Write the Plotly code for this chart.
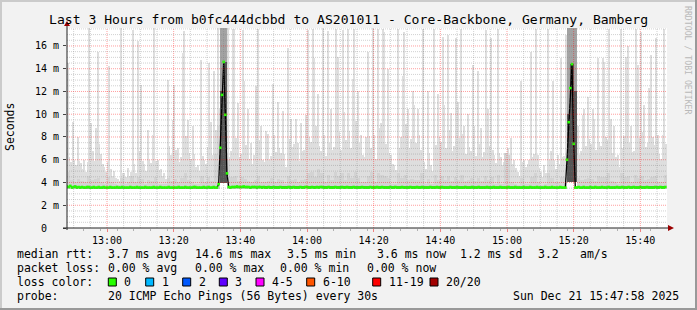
import plotly.graph_objects as go
import pandas as pd

START = "2025-12-21 12:48:00"
END = "2025-12-21 15:48:00"

# ---- data ----
# highest ping per 30 s step (upper edge of the light smoke), 360 steps
smoke_max = [
    14.5, 6.2, 5.8, 9.3, 6.0, 5.5, 8.0, 5.9, 5.7, 5.2, 6.0, 4.9, 5.8, 17.6, 9.2, 6.8, 5.9, 8.8, 15.5, 7.4,
    6.5, 5.6, 5.4, 4.9, 5.8, 14.2, 5.2, 4.6, 5.0, 4.4, 4.3, 4.1, 17.6, 4.8, 4.8, 4.5, 5.3, 4.6, 4.9, 17.4,
    5.6, 4.8, 16.4, 6.8, 12.6, 5.9, 5.6, 5.0, 8.6, 6.0, 5.7, 8.2, 17.6, 5.9, 6.0, 5.1, 5.2, 4.6, 4.8, 4.3,
    13.0, 7.2, 6.4, 9.5, 12.6, 6.9, 7.0, 5.8, 6.2, 15.4, 17.3, 8.1, 9.5, 6.6, 6.1, 9.0, 6.5, 5.4, 5.5, 5.0,
    14.8, 6.3, 6.0, 5.6, 7.1, 14.5, 9.3, 6.4, 13.8, 8.6, 17.6, 10.5, 17.6, 17.6, 17.6, 17.6, 17.6, 6.2, 6.8, 17.5,
    17.5, 7.9, 11.0, 6.2, 6.5, 17.4, 12.9, 7.3, 10.5, 6.1, 7.5, 5.6, 6.4, 12.5, 17.5, 7.7, 9.0, 6.0, 5.8, 8.5,
    8.3, 6.0, 6.3, 12.7, 8.2, 6.7, 11.1, 7.0, 6.6, 10.3, 6.5, 5.4, 15.8, 7.8, 9.6, 7.1, 7.4, 9.6, 7.5, 5.9,
    9.2, 6.8, 6.9, 9.9, 17.4, 8.0, 7.6, 17.5, 14.9, 9.0, 11.8, 7.2, 6.8, 17.6, 8.2, 6.3, 17.3, 7.5, 10.5, 6.9,
    7.1, 17.5, 15.0, 8.4, 6.9, 17.4, 10.2, 7.7, 17.5, 8.5, 7.0, 13.1, 17.5, 9.4, 12.0, 7.5, 8.2, 6.4, 6.2, 8.0,
    15.5, 8.1, 7.0, 17.6, 8.2, 6.1, 17.5, 8.8, 9.2, 17.5, 17.2, 7.4, 14.0, 6.6, 6.4, 5.6, 5.5, 5.1, 17.5, 7.0,
    8.0, 13.4, 17.2, 9.1, 10.5, 7.0, 7.8, 12.0, 10.8, 7.5, 10.5, 8.2, 6.9, 17.5, 5.8, 5.2, 12.0, 6.6, 5.5, 5.0,
    17.5, 7.3, 11.8, 8.0, 7.6, 16.8, 10.8, 7.0, 17.0, 8.6, 10.1, 6.8, 7.2, 16.7, 11.1, 7.9, 17.5, 8.3, 9.0, 6.5,
    10.0, 7.1, 6.8, 14.3, 9.0, 6.3, 13.8, 7.4, 8.8, 6.2, 6.7, 17.4, 10.5, 7.2, 16.7, 6.9, 6.4, 5.7, 17.5, 6.6,
    6.2, 5.5, 5.8, 6.6, 7.0, 6.4, 7.9, 5.6, 6.0, 5.3, 4.9, 4.6, 12.9, 5.8, 6.0, 5.4, 5.6, 6.0, 15.5, 6.2,
    6.5, 17.5, 6.4, 5.3, 4.9, 4.5, 5.5, 4.8, 17.5, 6.0, 6.8, 12.9, 6.0, 5.2, 6.4, 5.6, 14.9, 6.2, 6.3, 17.0,
    17.6, 17.6, 17.6, 17.6, 17.6, 17.6, 9.0, 6.4, 6.8, 9.9, 10.5, 7.2, 11.5, 7.8, 7.4, 10.5, 9.6, 6.9, 14.9, 7.6,
    7.2, 14.9, 14.6, 8.0, 7.7, 17.5, 9.6, 6.6, 9.0, 6.2, 6.4, 5.4, 17.5, 7.0, 8.1, 15.0, 16.0, 7.5, 9.0, 6.7,
    6.8, 17.5, 14.3, 7.9, 17.2, 8.4, 10.8, 7.1, 7.5, 12.3, 15.2, 8.0, 7.3, 16.7, 8.2, 6.5, 6.1, 8.2, 17.5, 7.4,
]
# medium-grey inner smoke, one value per minute
smoke_mid = [
    4.9, 4.2, 4.0, 4.3, 4.1, 4.0, 4.6, 4.2, 4.3, 4.4, 4.0, 3.9, 4.5, 4.0, 3.9, 3.8, 4.4, 3.9, 4.0, 4.6,
    4.0, 4.5, 4.3, 3.9, 4.2, 4.1, 4.5, 3.9, 3.9, 3.9, 4.4, 4.1, 4.3, 4.0, 4.4, 4.8, 4.2, 4.0, 3.9, 3.9,
    4.6, 4.0, 4.5, 4.1, 6.5, 9.0, 14.0, 14.0, 6.0, 4.5, 4.6, 4.1, 4.5, 4.3, 4.1, 4.0, 4.2, 4.6, 4.0, 4.0,
    4.1, 4.4, 4.0, 4.3, 4.2, 3.9, 4.6, 4.2, 4.3, 4.0, 4.2, 4.3, 4.8, 4.9, 4.5, 5.2, 4.8, 4.0, 4.7, 4.2,
    4.9, 4.6, 4.8, 4.2, 4.8, 4.4, 4.9, 4.4, 4.0, 4.0, 4.6, 4.9, 4.0, 4.8, 4.7, 4.6, 4.4, 3.9, 3.9, 4.8,
    4.4, 4.7, 4.2, 4.3, 4.2, 4.2, 4.8, 3.9, 4.3, 3.9, 4.7, 4.2, 4.6, 4.2, 4.6, 4.1, 4.5, 4.2, 4.7, 4.1,
    4.2, 4.4, 4.1, 4.4, 4.1, 4.6, 4.2, 4.5, 3.9, 4.7, 3.9, 6.6, 6.4, 4.0, 3.9, 3.8, 4.4, 3.9, 3.9, 4.5,
    4.8, 4.0, 3.8, 3.9, 4.8, 4.4, 4.0, 4.0, 4.5, 4.6, 14.0, 15.0, 12.0, 4.4, 4.2, 4.3, 4.4, 4.3, 4.1, 4.6,
    4.5, 4.5, 4.8, 4.1, 4.0, 3.9, 4.8, 4.5, 4.6, 4.0, 4.7, 4.4, 4.6, 4.2, 4.3, 4.5, 4.6, 4.0, 4.0, 4.7,
]
# lowest ping per minute (bottom of the smoke)
smoke_min = [
    3.4, 3.4, 3.4, 3.4, 3.4, 3.4, 3.4, 3.4, 3.4, 3.4, 3.4, 3.4, 3.4, 3.4, 3.4, 3.4, 3.4, 3.4, 3.4, 3.4,
    3.4, 3.4, 3.4, 3.4, 3.4, 3.4, 3.4, 3.4, 3.4, 3.4, 3.4, 3.4, 3.4, 3.4, 3.4, 3.4, 3.4, 3.4, 3.4, 3.4,
    3.4, 3.4, 3.4, 3.4, 3.4, 3.4, 3.95, 3.95, 3.4, 3.4, 3.4, 3.4, 3.4, 3.4, 3.4, 3.4, 3.4, 3.4, 3.4, 3.4,
    3.4, 3.4, 3.4, 3.4, 3.4, 3.4, 3.4, 3.4, 3.4, 3.4, 3.4, 3.4, 3.4, 3.4, 3.4, 3.4, 3.4, 3.4, 3.4, 3.4,
    3.4, 3.4, 3.4, 3.4, 3.4, 3.4, 3.4, 3.4, 3.4, 3.4, 3.4, 3.4, 3.4, 3.4, 3.4, 3.4, 3.4, 3.4, 3.4, 3.4,
    3.4, 3.4, 3.4, 3.4, 3.4, 3.4, 3.4, 3.4, 3.4, 3.4, 3.4, 3.4, 3.4, 3.4, 3.4, 3.4, 3.4, 3.4, 3.4, 3.4,
    3.4, 3.4, 3.4, 3.4, 3.4, 3.4, 3.4, 3.4, 3.4, 3.4, 3.4, 3.4, 3.4, 3.4, 3.4, 3.4, 3.4, 3.4, 3.4, 3.4,
    3.4, 3.4, 3.4, 3.4, 3.4, 3.4, 3.4, 3.4, 3.4, 3.4, 4.0, 4.0, 4.0, 3.4, 3.4, 3.4, 3.4, 3.4, 3.4, 3.4,
    3.4, 3.4, 3.4, 3.4, 3.4, 3.4, 3.4, 3.4, 3.4, 3.4, 3.4, 3.4, 3.4, 3.4, 3.4, 3.4, 3.4, 3.4, 3.4, 3.4,
]
# dark smoke during the two latency spikes
dark_times = ["2025-12-21 13:34:00", "2025-12-21 13:35:00",
              "2025-12-21 15:18:00", "2025-12-21 15:19:00", "2025-12-21 15:20:00"]
dark_top = [17.6, 17.6, 17.6, 17.6, 17.6]
dark_core = [12.0, 14.6, 10.0, 14.4, 12.0]
dark_floor = [3.95, 3.95, 4.0, 4.0, 4.0]

# median rtt every 30 s (ms)
median_rtt = [
    3.65, 3.6, 3.7, 3.55, 3.6, 3.65, 3.55, 3.6, 3.55, 3.6, 3.55, 3.55, 3.6, 3.6, 3.55, 3.55, 3.6, 3.55, 3.55, 3.6,
    3.55, 3.55, 3.6, 3.55, 3.55, 3.55, 3.6, 3.55, 3.55, 3.55, 3.6, 3.55, 3.55, 3.6, 3.55, 3.55, 3.55, 3.55, 3.6, 3.55,
    3.55, 3.55, 3.6, 3.55, 3.55, 3.55, 3.55, 3.6, 3.55, 3.55, 3.55, 3.55, 3.6, 3.55, 3.55, 3.55, 3.6, 3.55, 3.55, 3.55,
    3.55, 3.6, 3.55, 3.55, 3.55, 3.55, 3.55, 3.6, 3.55, 3.55, 3.55, 3.6, 3.55, 3.55, 3.55, 3.55, 3.6, 3.6, 3.55, 3.55,
    3.55, 3.55, 3.6, 3.55, 3.55, 3.6, 3.55, 3.55, 3.6, 3.55, 3.55, 3.85, 7.05, 11.7, 14.6, 9.95, 4.8, 3.6, 3.55, 3.6,
    3.6, 3.6, 3.65, 3.6, 3.6, 3.6, 3.65, 3.6, 3.6, 3.6, 3.55, 3.6, 3.6, 3.6, 3.55, 3.6, 3.6, 3.55, 3.6, 3.55,
    3.55, 3.6, 3.55, 3.55, 3.6, 3.55, 3.55, 3.55, 3.6, 3.55, 3.55, 3.55, 3.55, 3.6, 3.55, 3.55, 3.6, 3.55, 3.55, 3.55,
    3.6, 3.55, 3.55, 3.6, 3.6, 3.55, 3.55, 3.6, 3.55, 3.55, 3.6, 3.55, 3.6, 3.6, 3.55, 3.55, 3.55, 3.6, 3.55, 3.55,
    3.55, 3.6, 3.55, 3.55, 3.55, 3.6, 3.55, 3.55, 3.6, 3.55, 3.55, 3.55, 3.6, 3.55, 3.55, 3.55, 3.55, 3.6, 3.55, 3.55,
    3.55, 3.55, 3.6, 3.55, 3.55, 3.55, 3.6, 3.55, 3.55, 3.6, 3.55, 3.55, 3.55, 3.55, 3.6, 3.55, 3.55, 3.6, 3.55, 3.55,
    3.55, 3.6, 3.55, 3.55, 3.55, 3.55, 3.6, 3.55, 3.55, 3.55, 3.6, 3.55, 3.55, 3.6, 3.55, 3.55, 3.55, 3.55, 3.6, 3.55,
    3.55, 3.55, 3.6, 3.55, 3.55, 3.6, 3.55, 3.55, 3.55, 3.55, 3.6, 3.55, 3.55, 3.55, 3.6, 3.55, 3.55, 3.55, 3.55, 3.6,
    3.55, 3.55, 3.55, 3.6, 3.55, 3.55, 3.55, 3.6, 3.55, 3.55, 3.55, 3.55, 3.6, 3.55, 3.55, 3.55, 3.6, 3.55, 3.55, 3.55,
    3.6, 3.55, 3.55, 3.55, 3.55, 3.6, 3.55, 3.55, 3.55, 3.6, 3.55, 3.55, 3.55, 3.55, 3.6, 3.55, 3.55, 3.55, 3.6, 3.55,
    3.55, 3.55, 3.6, 3.55, 3.55, 3.55, 3.55, 3.6, 3.55, 3.55, 3.55, 3.6, 3.55, 3.55, 3.55, 3.55, 3.6, 3.55, 3.55, 3.55,
    6.0, 9.3, 12.3, 14.4, 7.4, 3.55, 3.55, 3.6, 3.55, 3.55, 3.6, 3.55, 3.55, 3.55, 3.6, 3.55, 3.55, 3.6, 3.55, 3.55,
    3.55, 3.6, 3.55, 3.55, 3.55, 3.6, 3.55, 3.55, 3.55, 3.55, 3.6, 3.55, 3.55, 3.6, 3.55, 3.55, 3.55, 3.6, 3.55, 3.55,
    3.6, 3.55, 3.55, 3.55, 3.6, 3.55, 3.55, 3.55, 3.6, 3.55, 3.55, 3.55, 3.55, 3.6, 3.55, 3.55, 3.6, 3.55, 3.55, 3.6,
]

y_ticks = [0, 2, 4, 6, 8, 10, 12, 14, 16]
y_tick_labels = ["0\u00a0\u00a0", "2 m", "4 m", "6 m", "8 m", "10 m", "12 m", "14 m", "16 m"]
x_tick_labels = ["13:00", "13:20", "13:40", "14:00", "14:20", "14:40", "15:00", "15:20", "15:40"]

title_text = "Last 3 Hours from b0fc444dcbbd to AS201011 - Core-Backbone, Germany, Bamberg"
row_rtt = [("median rtt:", 16), ("3.7 ms avg", 107), ("14.6 ms max", 193.7), ("3.5 ms min", 286),
           ("3.6 ms now", 375.5), ("1.2 ms sd", 459), ("3.2", 536.7), ("am/s", 579.3)]
row_loss = [("packet loss:", 16), ("0.00 % avg", 107), ("0.00 % max", 193.7),
            ("0.00 % min", 279.3), ("0.00 % now", 366)]
loss_labels = ["0", "1", "2", "3", "4-5", "6-10", "11-19", "20/20"]
loss_colors = ["#26ff00", "#00b8ff", "#0059ff", "#5e00ff", "#ff00ff", "#ff5500", "#ff0000", "#a10000"]
loss_box_x = [108.3, 145.7, 182.7, 219.3, 256, 306.7, 372.7, 430]
probe_text = "20 ICMP Echo Pings (56 Bytes) every 30s"
date_text = "Sun Dec 21 15:47:58 2025"

# ---- geometry ----
W, H = 697, 310
L, T, PW, PH = 67, 28, 600, 200
R, B = W - L - PW, H - T - PH
FONT = "DejaVu Sans Mono"


def px(x):
    return (x - L) / PW


def py(y):
    return (T + PH - y) / PH


t0 = pd.Timestamp(START)
minute_times = [(t0 + pd.Timedelta(minutes=i)).strftime("%Y-%m-%d %H:%M:%S") for i in range(len(smoke_mid))]
step_times = [(t0 + pd.Timedelta(seconds=30 * i)).strftime("%Y-%m-%d %H:%M:%S") for i in range(len(median_rtt))]
step_floor = [smoke_min[i // 2] for i in range(len(smoke_max))]

fig = go.Figure()
fig.add_bar(x=step_times, y=[h - l for h, l in zip(smoke_max, step_floor)], base=step_floor,
            width=30000, offset=0, marker=dict(color="#dedede", line=dict(width=0)), hoverinfo="skip")
fig.add_bar(x=minute_times, y=[m - l for m, l in zip(smoke_mid, smoke_min)], base=smoke_min,
            width=60000, offset=0, marker=dict(color="#d3d3d3", line=dict(width=0)), hoverinfo="skip")
fig.add_bar(x=dark_times, y=[h - l for h, l in zip(dark_top, dark_floor)], base=dark_floor,
            width=60000, offset=0, marker=dict(color="#a3a3a3", line=dict(width=0)), hoverinfo="skip")
fig.add_bar(x=dark_times, y=[h - l for h, l in zip(dark_core, dark_floor)], base=dark_floor,
            width=60000, offset=0, marker=dict(color="#555555", line=dict(width=0)), hoverinfo="skip")
fig.add_scatter(x=step_times, y=median_rtt, mode="lines", line=dict(color="#000000", width=1.3),
                hoverinfo="skip")
fig.add_scatter(x=step_times, y=median_rtt, mode="markers",
                marker=dict(symbol="square", size=2.6, color="#26ff00", line=dict(width=0)), hoverinfo="skip")

shapes = []
# grid above the smoke (as rrdtool does)
end_ts = pd.Timestamp(END)
t = t0
while t <= end_ts:
    if t > t0 and t.minute % 5 == 0:
        major = t.minute % 20 == 0
        shapes.append(dict(type="line", xref="x", yref="paper", x0=t.strftime("%Y-%m-%d %H:%M:%S"),
                           x1=t.strftime("%Y-%m-%d %H:%M:%S"), y0=0, y1=1, layer="above",
                           line=dict(color="rgba(255,0,0,0.38)" if major else "rgba(128,128,128,0.36)",
                                     width=1, dash="1px,1px")))
    t += pd.Timedelta(minutes=1)
v = 0.5
while v < 17.58:
    major = abs(v / 2 - round(v / 2)) < 1e-9
    shapes.append(dict(type="line", xref="paper", yref="y", x0=0, x1=1, y0=v, y1=v, layer="above",
                       line=dict(color="rgba(255,0,0,0.38)" if major else "rgba(128,128,128,0.36)",
                                 width=1, dash="1px,1px")))
    v += 0.5

# axes with arrows
shapes.append(dict(type="line", xref="paper", yref="paper", x0=px(67), x1=px(67), y0=py(230), y1=py(24),
                   line=dict(color="#222222", width=1), layer="above"))
shapes.append(dict(type="line", xref="paper", yref="paper", x0=px(63), x1=px(670), y0=py(228), y1=py(228),
                   line=dict(color="#222222", width=1), layer="above"))
shapes.append(dict(type="path", xref="paper", yref="paper", layer="above",
                   path=f"M {px(64)},{py(26)} L {px(70)},{py(26)} L {px(67)},{py(21)} Z",
                   fillcolor="#9b0000", line=dict(width=0)))
shapes.append(dict(type="path", xref="paper", yref="paper", layer="above",
                   path=f"M {px(668)},{py(225)} L {px(668)},{py(231)} L {px(674)},{py(228)} Z",
                   fillcolor="#9b0000", line=dict(width=0)))

# 3D frame
shapes += [
    dict(type="rect", xref="paper", yref="paper", x0=px(0), x1=px(W), y0=py(2), y1=py(0),
         fillcolor="#cbcbcb", line=dict(width=0), layer="below"),
    dict(type="rect", xref="paper", yref="paper", x0=px(0), x1=px(2), y0=py(H), y1=py(0),
         fillcolor="#cbcbcb", line=dict(width=0), layer="below"),
    dict(type="rect", xref="paper", yref="paper", x0=px(0), x1=px(W), y0=py(H), y1=py(H - 2),
         fillcolor="#999999", line=dict(width=0), layer="below"),
    dict(type="rect", xref="paper", yref="paper", x0=px(W - 2), x1=px(W), y0=py(H), y1=py(0),
         fillcolor="#999999", line=dict(width=0), layer="below"),
]

# loss colour boxes
for bx, col in zip(loss_box_x, loss_colors):
    shapes.append(dict(type="rect", xref="paper", yref="paper", x0=px(bx), x1=px(bx + 8),
                       y0=py(286), y1=py(278), fillcolor=col, line=dict(color="#000000", width=1)))

annotations = []


def txt(text, x, y, size=11.5, anchor="left", color="#000000", angle=0, yanchor="middle"):
    annotations.append(dict(text=text, xref="paper", yref="paper", x=px(x), y=py(y), xanchor=anchor,
                            yanchor=yanchor, showarrow=False, borderpad=0, textangle=angle,
                            font=dict(family=FONT, size=size, color=color)))


txt(title_text, 348, 19, size=13.1, anchor="center")
txt("Seconds", 10, 127, size=11.5, anchor="center", angle=-90)
txt("RRDTOOL / TOBI OETIKER", 688, 60, size=8.2, anchor="center", color="#b9b9b9", angle=90)
for s, x in row_rtt:
    txt(s, x, 254.3)
for s, x in row_loss:
    txt(s, x, 267.7)
txt("loss color:", 16, 281.7)
for s, bx in zip(loss_labels, loss_box_x):
    txt(s, bx + 15, 281.7)
txt("probe:", 16, 295.7)
txt(probe_text, 107, 295.7)
txt(date_text, 680, 295.7, anchor="right")

major_times = [f"2025-12-21 {s}:00" for s in x_tick_labels]
minor_times = [(t0 + pd.Timedelta(minutes=5 * i)).strftime("%Y-%m-%d %H:%M:%S") for i in range(1, 36)]

fig.update_layout(
    width=W, height=H, margin=dict(l=L, r=R, t=T, b=B, pad=0),
    paper_bgcolor="#f2f2f2", plot_bgcolor="#ffffff", showlegend=False,
    barmode="overlay", bargap=0,
    xaxis=dict(type="date", range=[START, END], showgrid=False, zeroline=False, showline=False,
               tickmode="array", tickvals=major_times, ticktext=x_tick_labels,
               ticks="outside", ticklen=3, tickcolor="#f08080", tickwidth=1,
               tickfont=dict(family=FONT, size=10, color="#000000"),
               minor=dict(tickmode="array", tickvals=minor_times, ticks="outside", ticklen=2,
                          tickcolor="#b0b0b0", showgrid=False)),
    yaxis=dict(range=[0, 17.58], showgrid=False, zeroline=False, showline=False,
               tickmode="array", tickvals=y_ticks, ticktext=y_tick_labels,
               ticks="outside", ticklen=3, tickcolor="#444444", ticklabelstandoff=2,
               tickfont=dict(family=FONT, size=10, color="#000000")),
    shapes=shapes, annotations=annotations,
)

fig.write_html("out.html")
